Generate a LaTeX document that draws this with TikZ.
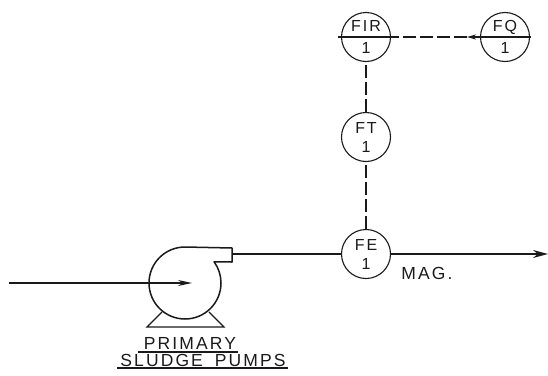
\documentclass[tikz,border=0pt]{standalone}
\usepackage{fontspec}
\setmainfont{Liberation Sans}
\newfontfamily\handfont[LetterSpace=12]{Liberation Sans}
\usetikzlibrary{arrows.meta}
\definecolor{ink}{HTML}{1A1A1A}
\tikzset{
 instr/.style={draw=ink,circle,minimum size=49pt,inner sep=0pt,line width=1.1pt,align=center,text=ink,font=\fontsize{16}{19}\selectfont\handfont},
 pipe/.style={draw=ink,line width=1.5pt},
 signal/.style={draw=ink,line width=1.5pt,dash pattern=on 13pt off 4pt},
 lettering/.style={text=ink,inner sep=0pt,font=\fontsize{17.5}{19}\selectfont\handfont},
}
\begin{document}
\begin{tikzpicture}[x=1pt,y=-1pt,>={Stealth[length=14pt,width=6pt]}]
\useasboundingbox (0,0) rectangle (548,375);
% instruments
\node[instr] (fir) at (366,37) {FIR\\[3pt]1};
\node[instr] (fq) at (505,37) {FQ\\[3pt]1};
\node[instr] (ft) at (366,137) {FT\\1};
\node[instr] (fe) at (366,254) {FE\\1};
\draw[ink,line width=1.1pt] (338,37) -- (392,37) (479,37) -- (531,37);
% signal lines
\coordinate (fqtip) at (467,37);
\draw[signal] (fe) -- (ft);
\draw[signal] (ft) -- (fir);
\draw[signal] (fqtip) -- (fir);
\draw[pipe,->,>={Stealth[length=9pt,width=5pt]}] (fq) -- (fqtip);
% pump
\draw[pipe,line join=round] (185,247) arc[start angle=90,end angle=396,radius=36pt] -- (232,262) -- (232,248) -- cycle;
\draw[pipe,line width=1.1pt] (162,312) -- (147,327) -- (224,327) -- (209,312);
% pipe run
\coordinate (inlet) at (9,283);
\coordinate (inend) at (192,283);
\coordinate (outlet) at (232,254);
\coordinate (outend) at (548,254);
\draw[pipe,->] (inlet) -- (inend);
\draw[pipe] (outlet) -- (fe);
\draw[pipe,->,>={Stealth[length=15pt,width=8pt]}] (fe) -- (outend);
% lettering
\node[lettering] (mag) at (427,273) {MAG.};
\node[lettering] (primary) at (190,343) {PRIMARY};
\node[lettering] (sludge) at (203,360) {SLUDGE\hspace{5pt} PUMPS};
\draw[ink,line width=1.1pt] (138,352) -- (238,352) (117,368) -- (288,368);
\end{tikzpicture}
\end{document}
